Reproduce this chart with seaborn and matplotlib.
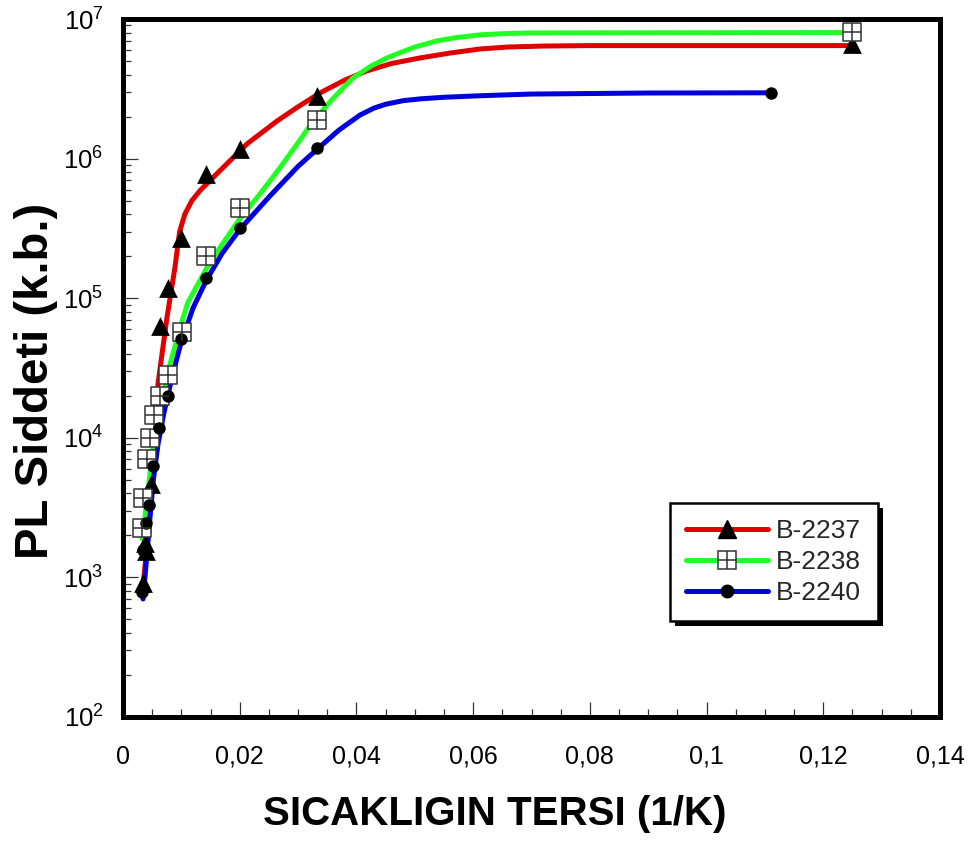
import numpy as np
import pandas as pd
import matplotlib
matplotlib.use("Agg")
import matplotlib.pyplot as plt
import seaborn as sns
from matplotlib.lines import Line2D
from matplotlib.patches import Rectangle
from matplotlib.ticker import LogLocator, FixedLocator, NullFormatter, LogFormatterSciNotation

# ---------------- data ----------------
series_names = ["B-2237", "B-2238", "B-2240"]

# measured points (markers)
red_mx = [0.00343, 0.00377, 0.00394, 0.0048, 0.0063, 0.0077, 0.0100, 0.0143, 0.0200, 0.0333, 0.1250]
red_my = [910, 1750, 1550, 4700, 6.3e4, 1.18e5, 2.7e5, 7.8e5, 1.18e6, 2.8e6, 6.6e6]

green_mx = [0.00326, 0.00343, 0.0041, 0.0046, 0.0053, 0.0063, 0.0077, 0.0101, 0.0143, 0.0200, 0.0333, 0.1250]
green_my = [2.25e3, 3.7e3, 7.0e3, 1.0e4, 1.45e4, 2.0e4, 2.8e4, 5.7e4, 2.0e5, 4.4e5, 1.9e6, 8.1e6]

blue_mx = [0.00326, 0.00343, 0.00394, 0.00446, 0.00514, 0.0062, 0.0077, 0.0100, 0.0143, 0.0200, 0.0333, 0.1111]
blue_my = [780, 1.56e3, 2.45e3, 3.3e3, 6.3e3, 1.18e4, 2.0e4, 5.1e4, 1.4e5, 3.2e5, 1.2e6, 2.96e6]

# fitted curves
red_cx = [0.0034, 0.0040, 0.0048, 0.0055, 0.0060, 0.00754, 0.0089, 0.0097, 0.0106, 0.0118, 0.0132,
          0.0161, 0.0213, 0.0264, 0.0300, 0.0338, 0.0380, 0.0418, 0.0460, 0.0509, 0.0560, 0.0612,
          0.0660, 0.0720, 0.0800, 0.1250]
red_cy = [850, 1.5e3, 4.0e3, 1.0e4, 2.45e4, 7.3e4, 1.66e5, 3.0e5, 4.0e5, 5.0e5, 5.9e5,
          7.8e5, 1.28e6, 1.86e6, 2.35e6, 2.96e6, 3.65e6, 4.25e6, 4.8e6, 5.26e6, 5.7e6, 6.1e6,
          6.3e6, 6.4e6, 6.45e6, 6.45e6]

green_cx = [0.00326, 0.0038, 0.0045, 0.0053, 0.0063, 0.0080, 0.0098, 0.0111, 0.0144, 0.0166, 0.0200,
            0.0235, 0.0269, 0.0300, 0.0326, 0.0360, 0.0394, 0.0425, 0.0452, 0.0500, 0.0538, 0.0570,
            0.0612, 0.0650, 0.0700, 0.1250]
green_cy = [1.9e3, 2.8e3, 5.0e3, 1.0e4, 1.6e4, 3.3e4, 6.2e4, 9.3e4, 1.66e5, 2.3e5, 3.7e5,
            5.6e5, 8.6e5, 1.3e6, 1.86e6, 2.7e6, 3.78e6, 4.6e6, 5.26e6, 6.3e6, 6.97e6, 7.35e6,
            7.7e6, 7.85e6, 7.95e6, 8.0e6]

blue_cx = [0.00343, 0.0040, 0.0046, 0.0052, 0.0060, 0.0070, 0.0080, 0.0090, 0.0100, 0.0120, 0.0143,
           0.0170, 0.0200, 0.0250, 0.0300, 0.0333, 0.0370, 0.0406, 0.0430, 0.0450, 0.0480, 0.0510,
           0.0550, 0.0612, 0.0700, 0.0900, 0.1111]
blue_cy = [700, 1.3e3, 2.6e3, 5.0e3, 9.0e3, 1.5e4, 2.3e4, 3.4e4, 4.9e4, 8.5e4, 1.35e5,
           2.1e5, 3.1e5, 5.3e5, 8.8e5, 1.17e6, 1.6e6, 2.05e6, 2.3e6, 2.45e6, 2.6e6, 2.68e6,
           2.75e6, 2.82e6, 2.9e6, 2.95e6, 2.96e6]

x_ticks = [0, 0.02, 0.04, 0.06, 0.08, 0.10, 0.12, 0.14]
x_tick_labels = ["0", "0,02", "0,04", "0,06", "0,08", "0,1", "0,12", "0,14"]
x_label = "SICAKLIGIN TERSI (1/K)"
y_label = "PL Siddeti (k.b.)"

RED = "#e00000"
GREEN = "#22ff22"
BLUE = "#0000dd"

# ---------------- style ----------------
sns.set_theme(style="white")
plt.rcParams['font.family'] = ['Liberation Sans', 'DejaVu Sans']
plt.rcParams['mathtext.fontset'] = 'custom'
plt.rcParams['mathtext.rm'] = 'Liberation Sans'
plt.rcParams['mathtext.it'] = 'Liberation Sans:italic'
plt.rcParams['mathtext.bf'] = 'Liberation Sans:bold'

W, H = 977, 848
fig = plt.figure(figsize=(W / 100, H / 100), dpi=100)
fig.patch.set_facecolor("white")
ax = fig.add_axes([123 / W, 1 - 717 / H, (940 - 123) / W, (717 - 19) / H])
ax.set_facecolor("white")

curves = pd.concat([
    pd.DataFrame({"x": red_cx, "y": red_cy, "s": series_names[0]}),
    pd.DataFrame({"x": green_cx, "y": green_cy, "s": series_names[1]}),
    pd.DataFrame({"x": blue_cx, "y": blue_cy, "s": series_names[2]}),
])
palette = {series_names[0]: RED, series_names[1]: GREEN, series_names[2]: BLUE}
sns.lineplot(data=curves, x="x", y="y", hue="s", palette=palette, sort=False,
             estimator=None, lw=3.6, ax=ax, legend=False, zorder=2)
for ln in ax.get_lines():
    ln.set_solid_joinstyle("round")

# markers
sns.scatterplot(x=red_mx, y=red_my, marker="^", s=13.5 ** 2, color="black",
                edgecolor="black", linewidth=0, ax=ax, zorder=4, legend=False)
sns.scatterplot(x=green_mx, y=green_my, marker="s", s=13 ** 2, color="white",
                edgecolor="#333333", linewidth=1.1, ax=ax, zorder=4, legend=False)
sns.scatterplot(x=green_mx, y=green_my, marker="+", s=13 ** 2, color="#333333",
                linewidth=1.1, ax=ax, zorder=5, legend=False)
sns.scatterplot(x=blue_mx, y=blue_my, marker="o", s=9 ** 2, color="black",
                edgecolor="black", linewidth=0, ax=ax, zorder=4, legend=False)

ax.set_yscale("log")
ax.set_xlim(0, 0.14)
ax.set_ylim(1e2, 1e7)

ax.xaxis.set_major_locator(FixedLocator(x_ticks))
ax.set_xticklabels(x_tick_labels)
ax.xaxis.set_minor_locator(FixedLocator(np.arange(0, 0.1401, 0.005)))
ax.yaxis.set_major_locator(LogLocator(base=10, numticks=10))
ax.yaxis.set_major_formatter(LogFormatterSciNotation())
ax.yaxis.set_minor_locator(LogLocator(base=10, subs=np.arange(2, 10), numticks=20))
ax.yaxis.set_minor_formatter(NullFormatter())

for s in ax.spines.values():
    s.set_linewidth(3.6)
    s.set_color("black")
    s.set_visible(True)

ax.tick_params(which="both", direction="in", left=True, bottom=True, right=False, top=False,
               color="#333333", width=0.9)
ax.tick_params(which="major", length=11)
ax.tick_params(which="minor", length=6)
ax.tick_params(axis="y", which="major", labelsize=18.5, pad=14)
ax.tick_params(axis="x", which="major", labelsize=18, pad=20)
for lab in ax.get_xticklabels() + ax.get_yticklabels():
    lab.set_color("black")

ax.set_xlabel(x_label, fontsize=29, fontweight="bold", color="black")
ax.set_ylabel(y_label, fontsize=34, fontweight="bold", color="black")
ax.xaxis.set_label_coords(0.455, -0.112)
ax.yaxis.set_label_coords(-0.080, 0.481)

# legend
h_red = (Line2D([], [], color=RED, lw=3.6),
         Line2D([], [], marker="^", ls="", color="black", ms=13.5))
h_green = (Line2D([], [], color=GREEN, lw=3.6),
           Line2D([], [], marker="s", ls="", mfc="white", mec="#333333", mew=1.1, ms=13),
           Line2D([], [], marker="+", ls="", color="#333333", mew=1.1, ms=13))
h_blue = (Line2D([], [], color=BLUE, lw=3.6),
          Line2D([], [], marker="o", ls="", color="black", ms=9))
leg = ax.legend([h_red, h_green, h_blue], series_names, loc="upper left",
                bbox_to_anchor=(670 / W, 1 - 503 / H), bbox_transform=fig.transFigure,
                borderaxespad=0, fontsize=19, handlelength=3.1, handletextpad=0.3,
                borderpad=0.62, labelspacing=0.26, fancybox=False, framealpha=1,
                facecolor="white", edgecolor="black")
leg.get_frame().set_linewidth(1.8)
leg.set_zorder(6)

fig.canvas.draw()
bb = leg.get_window_extent()
shadow = Rectangle(((bb.x0 + 5) / W, (bb.y0 - 5) / H), bb.width / W, bb.height / H,
                   transform=fig.transFigure, facecolor="black", edgecolor="none",
                   zorder=5.9, clip_on=False)
ax.add_artist(shadow)

fig.savefig("out.png", dpi=100, facecolor="white")
